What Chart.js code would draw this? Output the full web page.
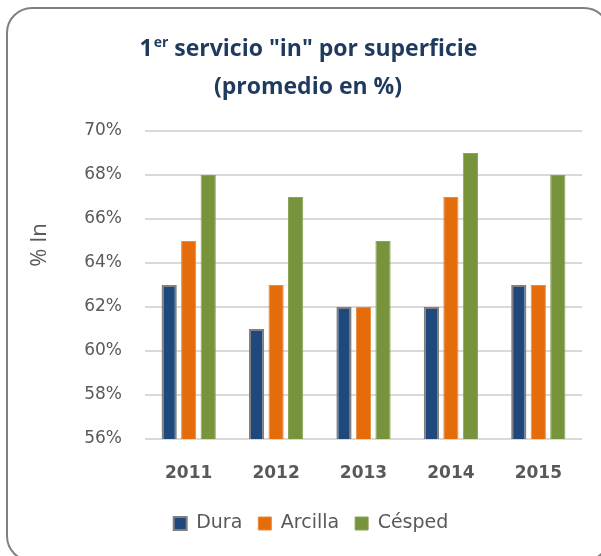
<!DOCTYPE html>
<html>
<head>
<meta charset="utf-8">
<script src="https://cdn.jsdelivr.net/npm/chart.js@4"></script>
<style>
  html, body { margin: 0; padding: 0; background: #fff; }
  #wrap { width: 601px; height: 556px; }
</style>
</head>
<body>
<div id="wrap"><canvas id="chart" width="601" height="556"></canvas></div>
<script>
var years = ["2011", "2012", "2013", "2014", "2015"];
var dura = [63, 61, 62, 62, 63];
var arcilla = [65, 63, 62, 67, 63];
var cesped = [68, 67, 65, 69, 68];
var seriesNames = ["Dura", "Arcilla", "Césped"];
var titleLines = ["1", "er", ' servicio "in" por superficie', "(promedio en %)"];
var yTitle = "% In";

var GREY = "#595959";

// frame, title and y-axis title drawn on the canvas
var decor = {
  id: "decor",
  beforeDraw: function (chart) {
    var ctx = chart.ctx;
    ctx.save();
    ctx.strokeStyle = "#808080";
    ctx.lineWidth = 2;
    ctx.beginPath();
    ctx.roundRect(7, 8, 602, 553, 25);
    ctx.stroke();
    ctx.restore();
  },
  afterDraw: function (chart) {
    var ctx = chart.ctx;
    ctx.save();
    ctx.fillStyle = "#1f3a5f";
    ctx.textBaseline = "alphabetic";
    var big = "bold 23px 'Open Sans'";
    var small = "bold 14px 'Open Sans'";
    ctx.font = big;
    var w1 = ctx.measureText(titleLines[0]).width;
    var w3 = ctx.measureText(titleLines[2]).width;
    ctx.font = small;
    var w2 = ctx.measureText(titleLines[1]).width;
    var x = 308 - (w1 + w2 + w3) / 2;
    ctx.textAlign = "left";
    ctx.font = big;
    ctx.fillText(titleLines[0], x, 56);
    ctx.font = small;
    ctx.fillText(titleLines[1], x + w1 + 1, 47);
    ctx.font = big;
    ctx.fillText(titleLines[2], x + w1 + w2 + 1, 56);
    ctx.textAlign = "center";
    ctx.fillText(titleLines[3], 308, 94);

    ctx.fillStyle = GREY;
    ctx.font = "22px 'Open Sans'";
    ctx.translate(40, 245);
    ctx.rotate(-Math.PI / 2);
    ctx.textBaseline = "middle";
    ctx.fillText(yTitle, 0, 0);
    ctx.restore();
  }
};

new Chart(document.getElementById("chart"), {
  type: "bar",
  data: {
    labels: years,
    datasets: [
      { label: seriesNames[0], data: dura, backgroundColor: "#1f497d", borderColor: "#808080", borderWidth: 2 },
      { label: seriesNames[1], data: arcilla, backgroundColor: "#e46c0a", borderColor: "#ea8a3c", borderWidth: 1 },
      { label: seriesNames[2], data: cesped, backgroundColor: "#77933c", borderColor: "#8aa456", borderWidth: 1 }
    ]
  },
  options: {
    responsive: false,
    animation: false,
    layout: { padding: { left: 40, right: 19, top: 131, bottom: 13 } },
    datasets: { bar: { categoryPercentage: 0.67, barPercentage: 0.78 } },
    scales: {
      x: {
        grid: { display: false },
        border: { display: false },
        ticks: { color: GREY, font: { family: "DejaVu Sans", size: 17, weight: "bold" }, padding: 16 },
        afterFit: function (s) { s.height = 59; }
      },
      y: {
        min: 56,
        max: 70,
        border: { display: false },
        grid: { color: "#d9d9d9", lineWidth: 2, drawTicks: false },
        ticks: {
          stepSize: 2,
          color: GREY,
          padding: 23,
          font: { family: "DejaVu Sans", size: 17 },
          callback: function (v) { return v + "%"; }
        },
        afterFit: function (s) { s.width = 105; }
      }
    },
    plugins: {
      title: { display: false },
      tooltip: { enabled: false },
      legend: {
        position: "bottom",
        labels: {
          boxWidth: 13,
          boxHeight: 13,
          padding: 16,
          color: GREY,
          font: { family: "DejaVu Sans", size: 19 }
        }
      }
    }
  },
  plugins: [decor]
});
</script>
</body>
</html>
